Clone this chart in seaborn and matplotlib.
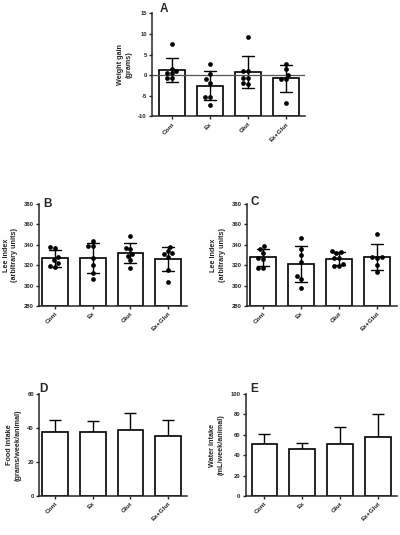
import matplotlib
matplotlib.use("Agg")
import matplotlib.pyplot as plt
import seaborn as sns
import numpy as np
import pandas as pd

groups = ["Cont", "Ex", "Glut", "Ex+Glut"]

# Panel A: weight gain (grams), individual animals
wg_cont = [7.6, 1.6, 1.0, 0.4, 0.4, -0.8, -0.8]
wg_ex = [2.8, 0.2, -1.0, -1.8, -5.3, -5.4, -7.3]
wg_glut = [9.3, 0.9, 0.9, -0.6, -0.7, -2.0, -2.1]
wg_exglut = [2.8, 1.4, 0.0, -0.9, -1.0, -6.7]

# Panel B: Lee index
leeB_cont = [336.5, 338, 322, 319, 318, 325, 328]
leeB_ex = [344, 339, 339, 326.7, 320.2, 312, 306.2]
leeB_glut = [348.6, 335.6, 336.5, 330.7, 329, 325.1, 317]
leeB_exglut = [338.2, 334.2, 331, 331.6, 328.3, 315.3, 304]

# Panel C: Lee index
leeC_cont = [338.5, 336, 332, 327, 317, 317, 326]
leeC_ex = [346.4, 336, 330, 323, 309.5, 306.2, 297.5]
leeC_glut = [331.6, 334.2, 332.6, 327.5, 327.5, 321.2, 318.9, 318.9]
leeC_exglut = [350.6, 327.7, 327.7, 327, 320.2, 313]

# Panel D: food intake mean and SD
food_mean = [37.8, 37.5, 38.8, 35.3]
food_sd = [6.7, 6.6, 10.2, 9.2]

# Panel E: water intake mean and SD
water_mean = [50.7, 45.8, 50.7, 57.5]
water_sd = [10.1, 6.5, 16.6, 22.6]

sns.set_theme(style="ticks")
plt.rcParams['font.family'] = ['Liberation Sans', 'DejaVu Sans']
plt.rcParams['font.weight'] = 'bold'
plt.rcParams['axes.linewidth'] = 1.1
plt.rcParams['xtick.major.width'] = 1.0
plt.rcParams['ytick.major.width'] = 1.0
plt.rcParams['xtick.major.size'] = 2.2
plt.rcParams['ytick.major.size'] = 2.2
plt.rcParams['xtick.major.pad'] = 1.5
plt.rcParams['ytick.major.pad'] = 1.5

fig = plt.figure(figsize=(4.0, 5.35), dpi=100)

def frame(vals):
    rows = []
    for g, v in zip(groups, vals):
        for x in v:
            rows.append((g, x))
    return pd.DataFrame(rows, columns=["group", "value"])

def style(ax, ylabel, yticks, ylim, xlim, letter, lx, ly):
    ax.set_ylim(*ylim)
    ax.set_xlim(*xlim)
    ax.set_yticks(yticks)
    ax.set_yticklabels([str(t) for t in yticks], fontsize=4.2, fontweight='bold')
    ax.set_xticks(range(len(groups)))
    ax.set_xticklabels(groups, rotation=45, ha='right', rotation_mode='anchor',
                       fontsize=4.6, fontweight='bold')
    ax.set_xlabel("")
    ax.set_ylabel(ylabel, fontsize=5.2, fontweight='bold', linespacing=1.3, labelpad=4)
    sns.despine(ax=ax)
    ax.text(lx, ly, letter, transform=ax.transAxes, fontsize=8.5, fontweight='bold',
            ha='left', va='center')

def base_bars(ax, base):
    # make bars rise from the bottom of the axis, as in the original figure
    for p in ax.patches:
        top = p.get_y() + p.get_height()
        p.set_y(base)
        p.set_height(top - base)

def scatter_panel(rect, vals, ylabel, yticks, ylim, xlim, letter, lx, ly, zero=False):
    ax = fig.add_axes(rect)
    df = frame(vals)
    sns.barplot(data=df, x="group", y="value", order=groups, errorbar='sd',
                color='white', edgecolor='black', linewidth=1.2, width=0.68,
                capsize=0.32, err_kws={'color': 'black', 'linewidth': 1.0}, ax=ax,
                zorder=2)
    base_bars(ax, ylim[0])
    if zero:
        ax.axhline(0, color='#555555', lw=0.9, zorder=2.5)
    sns.swarmplot(data=df, x="group", y="value", order=groups, color='black',
                  size=3.4, ax=ax, zorder=3)
    style(ax, ylabel, yticks, ylim, xlim, letter, lx, ly)
    return ax

def mean_panel(rect, means, sds, ylabel, yticks, ylim, xlim, letter, lx, ly):
    ax = fig.add_axes(rect)
    sns.barplot(x=groups, y=means, order=groups, errorbar=None, color='white',
                edgecolor='black', linewidth=1.2, width=0.68, ax=ax, zorder=2)
    ax.errorbar(range(len(groups)), means, yerr=[np.zeros(len(sds)), sds], fmt='none',
                ecolor='black', elinewidth=1.0, capsize=4, capthick=1.0, zorder=1)
    style(ax, ylabel, yticks, ylim, xlim, letter, lx, ly)
    return ax

scatter_panel([0.38, 0.7826, 0.3825, 0.1925], [wg_cont, wg_ex, wg_glut, wg_exglut],
              "Weight gain\n(grams)", [-10, -5, 0, 5, 10, 15], (-10, 15), (-0.52, 3.51),
              "A", 0.05, 1.04, zero=True)
scatter_panel([0.098, 0.428, 0.3685, 0.1907], [leeB_cont, leeB_ex, leeB_glut, leeB_exglut],
              "Lee Index\n(arbitrary units)", [280, 300, 320, 340, 360, 380], (280, 380),
              (-0.42, 3.49), "B", 0.025, 1.0)
scatter_panel([0.617, 0.428, 0.375, 0.1907], [leeC_cont, leeC_ex, leeC_glut, leeC_exglut],
              "Lee Index\n(arbitrary units)", [280, 300, 320, 340, 360, 380], (280, 380),
              (-0.42, 3.53), "C", 0.022, 1.02)
mean_panel([0.098, 0.0729, 0.3685, 0.1907], food_mean, food_sd,
           "Food intake\n(grams/week/animal)", [0, 20, 40, 60], (0, 60), (-0.42, 3.49),
           "D", 0.0, 1.05)
mean_panel([0.614, 0.0729, 0.3775, 0.1907], water_mean, water_sd,
           "Water intake\n(mL/week/animal)", [0, 20, 40, 60, 80, 100], (0, 100), (-0.5, 3.5),
           "E", 0.03, 1.05)

fig.savefig("out.png", dpi=100)
